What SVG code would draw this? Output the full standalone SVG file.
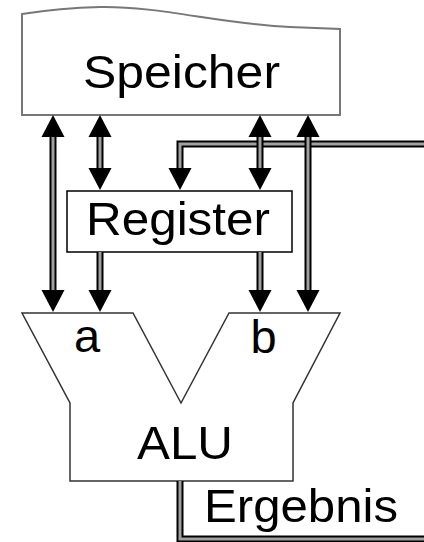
<svg xmlns="http://www.w3.org/2000/svg" width="424" height="542" viewBox="0 0 424 542">
<defs>
<style>
.lbl{font-family:"Liberation Sans",Arial,sans-serif;font-size:47px;fill:#000}
.bus{fill:none;stroke:#000;stroke-width:7;stroke-linejoin:miter;stroke-linecap:butt}
.core{fill:none;stroke:#a0a0a0;stroke-width:3;stroke-linejoin:miter;stroke-linecap:butt}
.head{fill:#000}
</style>
<path id="down" d="M0,0 L-11.5,-22 L11.5,-22 Z"/>
<path id="up" d="M0,0 L-11.5,22 L11.5,22 Z"/>
</defs>
<rect width="424" height="542" fill="#fff"/>
<g id="speicher">
<path d="M22,14 Q60,8 100,7 C160,6 220,24 290,27 L340,29 L340,115 L22,115 Z" fill="#fff" stroke="#777" stroke-width="2"/>
<text class="lbl" x="181.5" y="88" text-anchor="middle" textLength="197" lengthAdjust="spacingAndGlyphs">Speicher</text>
</g>
<g id="register">
<rect x="67" y="191" width="225" height="61" fill="#fff" stroke="#000" stroke-width="1.5"/>
<text class="lbl" x="178" y="235" text-anchor="middle" textLength="184" lengthAdjust="spacingAndGlyphs">Register</text>
</g>
<g id="alu">
<path d="M22,313 L133,313 L181,403 L229,313 L340,313 L293,403 L293,481 L70,481 L70,403 Z" fill="#fff" stroke="#333" stroke-width="1.5" stroke-linejoin="miter"/>
<text class="lbl" x="87" y="352" text-anchor="middle">a</text>
<text class="lbl" x="263.5" y="353" text-anchor="middle">b</text>
<text class="lbl" x="185" y="459" text-anchor="middle" textLength="96" lengthAdjust="spacingAndGlyphs">ALU</text>
</g>
<g id="ergebnis">
<text class="lbl" x="204" y="522" textLength="194" lengthAdjust="spacingAndGlyphs">Ergebnis</text>
</g>
<g id="connectors">
<polyline class="bus" points="424,144 180,144 180,169"/>
<polyline class="core" points="424,144 180,144 180,169"/>
<line class="bus" x1="53" y1="136" x2="53" y2="291"/>
<line class="core" x1="53" y1="136" x2="53" y2="291"/>
<line class="bus" x1="100" y1="136" x2="100" y2="169"/>
<line class="core" x1="100" y1="136" x2="100" y2="169"/>
<line class="bus" x1="100" y1="252" x2="100" y2="291"/>
<line class="core" x1="100" y1="252" x2="100" y2="291"/>
<line class="bus" x1="260" y1="136" x2="260" y2="169"/>
<line class="core" x1="260" y1="136" x2="260" y2="169"/>
<line class="bus" x1="260" y1="252" x2="260" y2="291"/>
<line class="core" x1="260" y1="252" x2="260" y2="291"/>
<line class="bus" x1="308" y1="136" x2="308" y2="291"/>
<line class="core" x1="308" y1="136" x2="308" y2="291"/>
<polyline class="bus" points="180,481 180,539 424,539"/>
<polyline class="core" points="180,481 180,539 424,539"/>
<use href="#up" class="head" x="53" y="115"/>
<use href="#down" class="head" x="53" y="312"/>
<use href="#up" class="head" x="100" y="115"/>
<use href="#down" class="head" x="100" y="190"/>
<use href="#down" class="head" x="100" y="312"/>
<use href="#down" class="head" x="180" y="190"/>
<use href="#up" class="head" x="260" y="115"/>
<use href="#down" class="head" x="260" y="190"/>
<use href="#down" class="head" x="260" y="312"/>
<use href="#up" class="head" x="308" y="115"/>
<use href="#down" class="head" x="308" y="312"/>
</g>
</svg>
